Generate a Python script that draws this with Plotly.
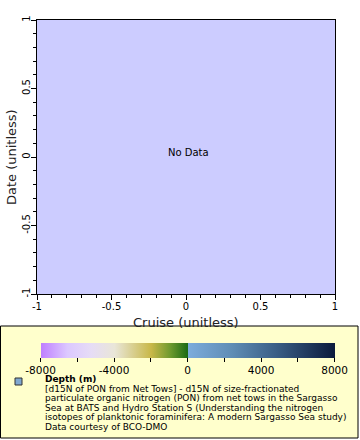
import plotly.graph_objects as go

# ---- data (the reference shows an empty plot: "No Data") ----
cruise = []          # x values (unitless)
date = []            # y values (unitless)
depth = []           # colour values (m)

x_tick_vals = [-1, -0.5, 0, 0.5, 1]
x_tick_text = ["-1", "-0.5", "0", "0.5", "1"]
y_tick_vals = [-1, -0.5, 0, 0.5, 1]
y_tick_text = ["-1", "-0.5", "0", "0.5", "1"]

cbar_tick_vals = [-8000, -6000, -4000, -2000, 0, 2000, 4000, 6000, 8000]
cbar_tick_text = ["-8000", "", "-4000", "", "0", "", "4000", "", "8000"]
cbar_range = [-8000, 8000]

x_title = "Cruise (unitless)"
y_title = "Date (unitless)"
legend_title = "Depth (m)"
legend_lines = [
    "[d15N of PON from Net Tows] - d15N of size-fractionated",
    "particulate organic nitrogen (PON) from net tows in the Sargasso",
    "Sea at BATS and Hydro Station S (Understanding the nitrogen",
    "isotopes of planktonic foraminifera: A modern Sargasso Sea study)",
    "Data courtesy of BCO-DMO",
]

colorscale = [
    [0.0, "#bf7fff"],
    [0.09, "#dcc8ff"],
    [0.17, "#e6dcf6"],
    [0.25, "#e9e6d8"],
    [0.375, "#c8b848"],
    [0.44, "#6e9a2e"],
    [0.4999, "#1a6a14"],
    [0.5, "#7cacdc"],
    [0.65, "#5f8db5"],
    [0.8, "#3a5e86"],
    [1.0, "#0b1a3c"],
]

W, H = 360, 440
L, R, T, B = 37, 25, 20, 146
PW, PH = W - L - R, H - T - B


def xp(px):
    return (px - L) / PW


def yp(py):
    return (H - B - py) / PH


FONT = "DejaVu Sans"

fig = go.Figure()
# the (empty) data trace
fig.add_trace(go.Scatter(
    x=cruise, y=date, mode="markers", showlegend=False,
    marker=dict(color=depth, colorscale=colorscale,
                cmin=cbar_range[0], cmax=cbar_range[1]),
))
# colour-scale carrier (no visible points) so the depth colour bar is drawn
fig.add_trace(go.Scatter(
    x=[None, None], y=[None, None], mode="markers", showlegend=False, hoverinfo="skip",
    marker=dict(
        color=cbar_range, colorscale=colorscale, cmin=cbar_range[0], cmax=cbar_range[1],
        showscale=True,
        colorbar=dict(
            orientation="h", xref="container", yref="container",
            x=49 / W, xanchor="left", y=1 - 343 / H, yanchor="top",
            lenmode="pixels", len=294, thickness=15,
            xpad=0, ypad=0, outlinewidth=0,
            tickmode="array", tickvals=cbar_tick_vals, ticktext=cbar_tick_text,
            ticks="outside", ticklen=4, tickcolor="#000",
            ticklabeloverflow="allow",
            tickfont=dict(family=FONT, size=10.5, color="#000"),
        ),
    ),
))

axis_common = dict(
    range=[-1, 1], showgrid=False, zeroline=False, automargin=False,
    showline=True, linecolor="#000", linewidth=1, mirror=True,
    ticks="outside", ticklen=5, tickcolor="#000",
    tickfont=dict(family=FONT, size=10, color="#000"),
    minor=dict(dtick=0.1, ticks="outside", ticklen=3, tickcolor="#000", showgrid=False),
    tickmode="array",
)

fig.update_xaxes(**axis_common, tickvals=x_tick_vals, ticktext=x_tick_text,
                 ticklabelstandoff=-2)
fig.update_yaxes(**axis_common, tickvals=y_tick_vals, ticktext=y_tick_text, tickangle=-90,
                 ticklabelstandoff=-3)

shapes = [
    dict(type="rect", xref="paper", yref="paper",
         x0=xp(0.5), x1=xp(358), y0=yp(326), y1=yp(438),
         fillcolor="#ffffcc", line=dict(color="#000", width=1), layer="below"),
    dict(type="rect", xref="paper", yref="paper",
         x0=xp(15), x1=xp(22), y0=yp(378), y1=yp(385),
         fillcolor="#80a8d0", line=dict(color="#333", width=1)),
]

TITLE_FONT = dict(family=FONT, size=13, color="#222")
LEG_FONT = dict(family=FONT, size=9, color="#000")
annotations = [
    dict(text="No Data", x=0.02, y=0.03, xref="x", yref="y", showarrow=False,
         font=dict(family=FONT, size=10, color="#000"), yanchor="middle"),
    dict(text=x_title, x=0.5, y=yp(322), xref="paper", yref="paper",
         xanchor="center", yanchor="middle", showarrow=False, font=TITLE_FONT),
    dict(text=y_title, x=xp(11), y=0.5, xref="paper", yref="paper", textangle=-90,
         xanchor="center", yanchor="middle", showarrow=False, font=TITLE_FONT),
    dict(text="<b>" + legend_title + "</b>", x=xp(43), y=yp(379), xref="paper", yref="paper",
         xanchor="left", yanchor="middle", showarrow=False, font=LEG_FONT),
]
for i, line in enumerate(legend_lines):
    annotations.append(dict(
        text=line, x=xp(43), y=yp(388.5 + 9.6 * i), xref="paper", yref="paper",
        xanchor="left", yanchor="middle", showarrow=False, font=LEG_FONT))

fig.update_layout(
    width=W, height=H, margin=dict(l=L, r=R, t=T, b=B, pad=0),
    paper_bgcolor="#fff", plot_bgcolor="#ccccff",
    shapes=shapes, annotations=annotations, showlegend=False,
)

fig.write_html("out.html")
